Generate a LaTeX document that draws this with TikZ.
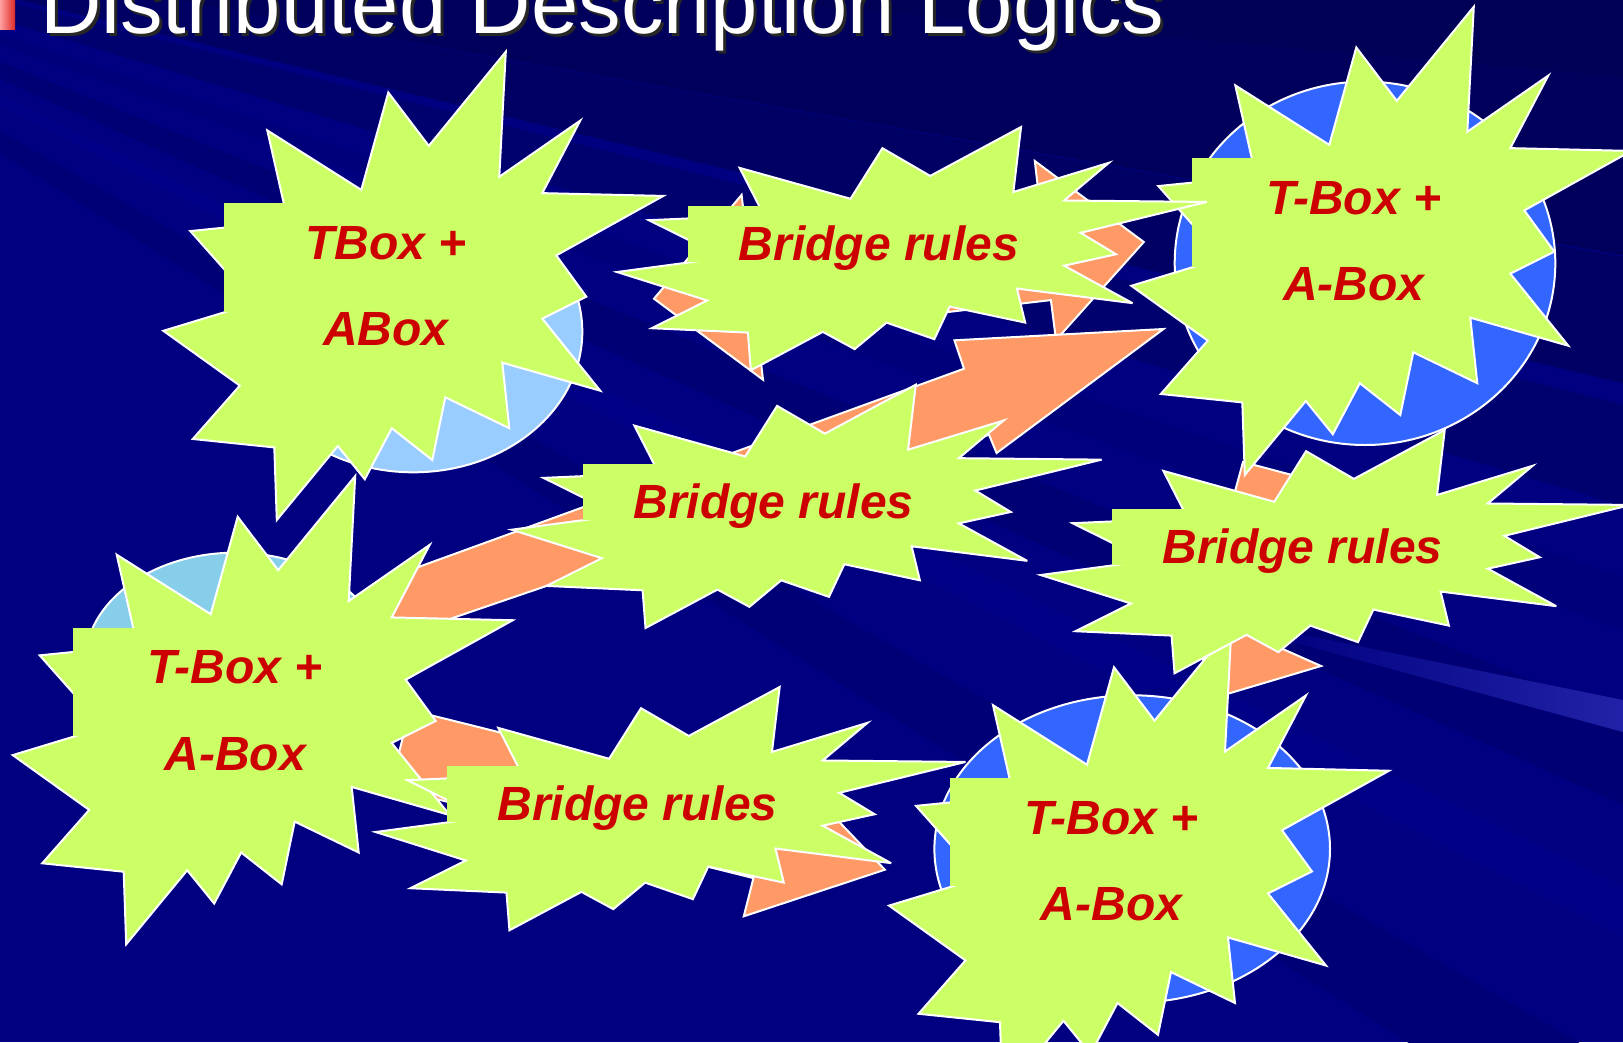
\documentclass[tikz,border=0pt]{standalone}
\usepackage{fontspec}
\setmainfont{Liberation Sans}
\definecolor{navy}{RGB}{0,0,128}
\definecolor{burstgreen}{RGB}{204,255,102}
\definecolor{txtred}{RGB}{204,0,0}
\definecolor{arroworange}{RGB}{255,153,102}
\definecolor{ellA}{RGB}{153,204,255}
\definecolor{ellF}{RGB}{135,206,235}
\definecolor{ellC}{RGB}{51,102,255}
\tikzset{
  burstshape/.style={fill=burstgreen, draw=white, line width=2pt, miter limit=5},
  burstrect/.style={fill=burstgreen},
  blockarrow/.style={fill=arroworange, draw=white, line width=2pt, miter limit=5},
  oval/.style={draw=white, line width=2pt},
  lbl/.style={text=txtred, font=\fontsize{48}{58}\selectfont\bfseries\itshape, anchor=base, inner sep=0pt},
  ray/.style={draw=none}
}
\newcommand{\explosion}[4]{%
  \begin{scope}[shift={(#1,#2)},xscale=#3,yscale=#4]
    \filldraw[burstshape] (0.531,0.201) -- (0.685,0) -- (0.672,0.267) -- (0.834,0.147) -- (0.758,0.302) -- (1,0.308) -- (0.786,0.435) -- (0.846,0.523) -- (0.758,0.570) -- (0.874,0.724) -- (0.678,0.664) -- (0.692,0.804) -- (0.564,0.738) -- (0.538,0.872) -- (0.457,0.804) -- (0.403,0.913) -- (0.349,0.842) -- (0.227,1) -- (0.222,0.845) -- (0.059,0.827) -- (0.153,0.713) -- (0,0.596) -- (0.182,0.537) -- (0.054,0.383) -- (0.249,0.362) -- (0.208,0.168) -- (0.396,0.295) -- (0.450,0.087) -- cycle;
    \fill[burstrect] (0.121,0.324) rectangle (0.75,0.555);
  \end{scope}}
\begin{document}
\begin{tikzpicture}[x=1pt,y=-1pt]
\useasboundingbox (0,0) rectangle (1623,1042);
\clip (0,0) rectangle (1623,1042);
% background
\fill[navy] (0,0) rectangle (1623,1042);
\coordinate (O) at (-400,-100);
\fill[ray, fill={rgb,255:red,0;green,0;blue,86}] (O) -- ++(-2:3000) -- ++(90:400) -- cycle;
\fill[ray, fill={rgb,255:red,0;green,0;blue,92}] (O) -- ++(5:3000) -- ++(96:260) -- cycle;
\fill[ray, fill={rgb,255:red,0;green,0;blue,100}] (O) -- ++(10:3000) -- ++(100:180) -- cycle;
\fill[ray, fill={rgb,255:red,0;green,0;blue,110}] (O) -- ++(14:3000) -- ++(104:140) -- cycle;
\fill[ray, fill={rgb,255:red,0;green,0;blue,122}] (O) -- ++(18.5:3000) -- ++(108:70) -- cycle;
\fill[ray, fill={rgb,255:red,0;green,0;blue,116}] (O) -- ++(22:3000) -- ++(112:110) -- cycle;
\fill[ray, fill={rgb,255:red,0;green,0;blue,134}] (O) -- ++(26:3000) -- ++(116:60) -- cycle;
\fill[ray, fill={rgb,255:red,0;green,0;blue,118}] (O) -- ++(30:3000) -- ++(120:120) -- cycle;
\shade[ray, left color=navy, right color={rgb,255:red,34;green,34;blue,168}] (1270,628) -- (1623,700) -- (1623,732) -- (1270,636) -- cycle;
% title
\fill[left color={rgb,255:red,255;green,160;blue,160}, right color={rgb,255:red,220;green,40;blue,40}] (0,0) rectangle (15,29);
\node[anchor=base west, inner sep=0pt, text=black!85, font=\fontsize{85}{100}\selectfont] (titleshadow) at (43,36.3) {Distributed Description Logics};
\node[anchor=base west, inner sep=0pt, text=white, font=\fontsize{85}{100}\selectfont] (title) at (40,33.3) {Distributed Description Logics};
% ellipses
\draw[oval, fill=ellA] (413.3,331.7) ellipse [x radius=169, y radius=140.6];
\draw[oval, fill=ellC] (1365,263.3) ellipse [x radius=190.3, y radius=181.7];
\draw[oval, fill=ellF] (235,662.7) ellipse [x radius=150, y radius=110];
\draw[oval, fill=ellC] (1132.2,849) ellipse [x radius=197.8, y radius=153.7];
% arrows
\filldraw[blockarrow] (654,298.7) -- (741.6,194.9) -- (746.9,240.6) -- (1040.1,206.7) -- (1034.8,161) -- (1143.8,242) -- (1056,340) -- (1050.9,300.1) -- (757.7,334) -- (763,379.7) -- cycle;
\filldraw[blockarrow] (1163.5,329) -- (954.4,340.3) -- (964,368.7) -- (380,581) -- (400,636) -- (989,434.7) -- (996.6,453) -- cycle;
\filldraw[blockarrow] (884.9,869.7) -- (743.8,916.3) -- (753.4,878.1) -- (390.3,787.5) -- (409.7,709.9) -- (772.8,800.5) -- (782.3,762.4) -- cycle;
\filldraw[blockarrow] (1243,462) -- (1292,475) -- (1249,634) -- (1321,666) -- (1222,695.5) -- (1180,615) -- (1200,620) -- cycle;
% explosions with labels
\explosion{163.3}{51.7}{500}{468.3}
\node[lbl] (a1) at (385.8,259.2) {TBox +};
\node[lbl] (a2) at (385.8,345.8) {ABox};
\explosion{1131.3}{6.7}{500}{468.3}
\node[lbl] (c1) at (1353.8,214.2) {T-Box +};
\node[lbl] (c2) at (1353.8,300.8) {A-Box};
\explosion{616.9}{127}{590}{243.3}
\node[lbl] (b1) at (878.9,260.8) {Bridge rules};
\explosion{511.6}{384.7}{590}{243.3}
\node[lbl] (d1) at (773.6,518.5) {Bridge rules};
\explosion{889}{626.5}{500}{468.3}
\node[lbl] (h1) at (1111.5,834) {T-Box +};
\node[lbl] (h2) at (1111.5,920.6) {A-Box};
\explosion{1040.6}{430}{590}{243.3}
\node[lbl] (e1) at (1302.6,563.8) {Bridge rules};
\explosion{12.7}{476}{500}{468.3}
\node[lbl] (f1) at (235.2,683.5) {T-Box +};
\node[lbl] (f2) at (235.2,770.1) {A-Box};
\explosion{375.5}{687}{590}{243.3}
\node[lbl] (g1) at (637.5,820.8) {Bridge rules};
\end{tikzpicture}
\end{document}
